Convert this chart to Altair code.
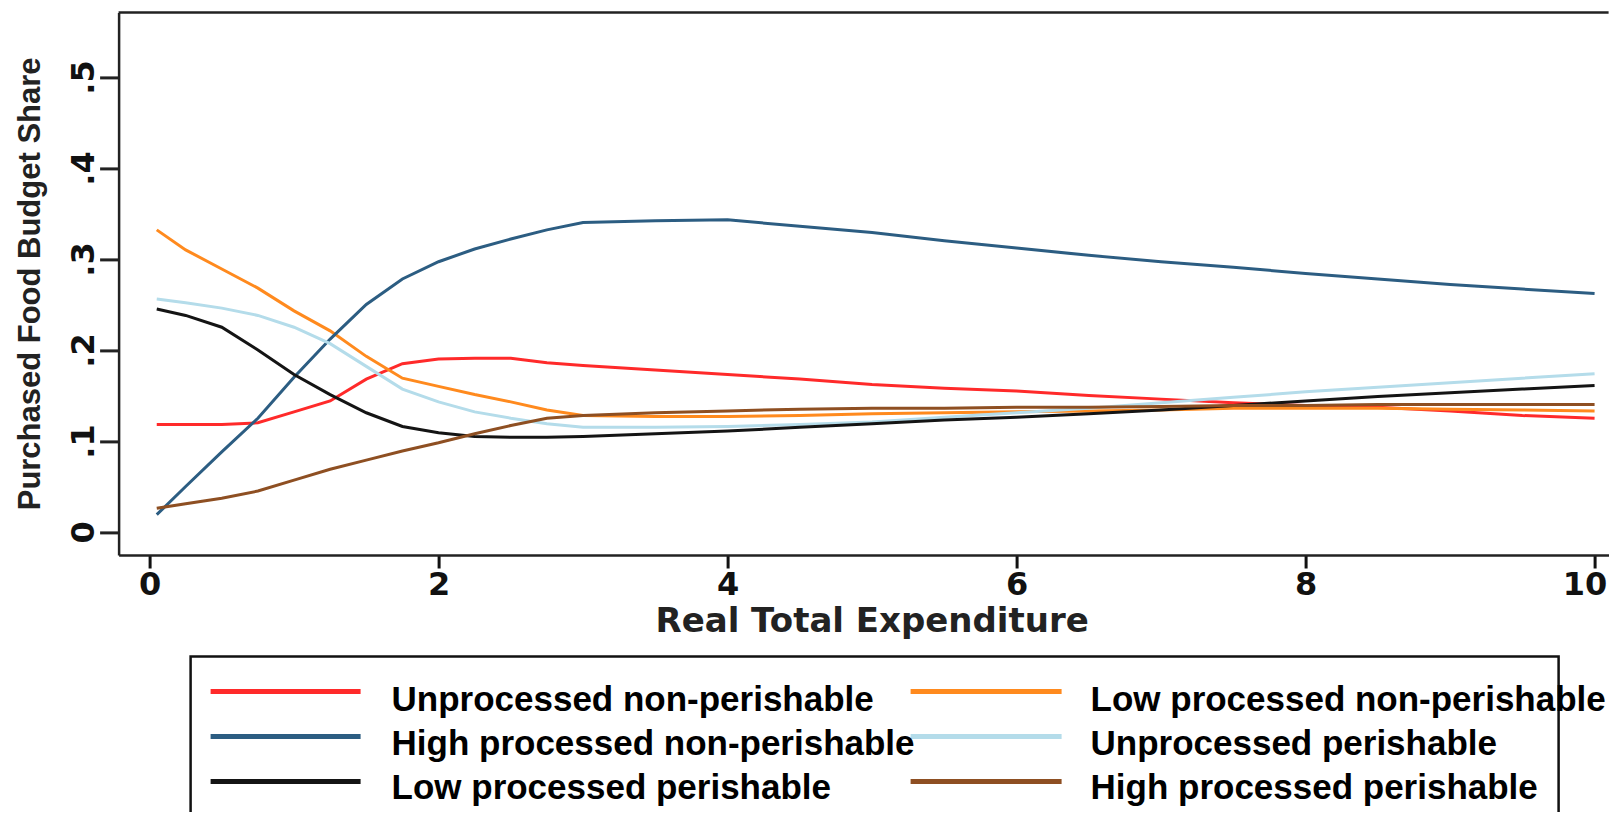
import altair as alt
import pandas as pd

# x grid (Real Total Expenditure)
x_vals = [0.05, 0.25, 0.5, 0.75, 1.0, 1.25, 1.5, 1.75, 2.0, 2.25, 2.5, 2.75, 3.0,
          3.5, 4.0, 4.5, 5.0, 5.5, 6.0, 6.5, 7.0, 7.5, 8.0, 8.5, 9.0, 9.5, 10.0]

unproc_nonper = [0.118, 0.118, 0.118, 0.120, 0.132, 0.144, 0.168, 0.185, 0.190, 0.191, 0.191, 0.186, 0.183,
                 0.178, 0.173, 0.168, 0.162, 0.158, 0.155, 0.150, 0.146, 0.142, 0.139, 0.137, 0.133, 0.128, 0.125]
lowproc_nonper = [0.332, 0.310, 0.289, 0.268, 0.243, 0.221, 0.193, 0.169, 0.160, 0.151, 0.143, 0.134, 0.128,
                  0.127, 0.127, 0.128, 0.130, 0.131, 0.132, 0.133, 0.134, 0.136, 0.136, 0.136, 0.135, 0.134, 0.133]
highproc_nonper = [0.019, 0.050, 0.088, 0.125, 0.170, 0.212, 0.250, 0.278, 0.297, 0.311, 0.322, 0.332, 0.340,
                   0.342, 0.343, 0.336, 0.329, 0.320, 0.312, 0.304, 0.297, 0.291, 0.284, 0.278, 0.272, 0.267, 0.262]
unproc_per = [0.256, 0.252, 0.246, 0.238, 0.225, 0.207, 0.182, 0.157, 0.143, 0.132, 0.125, 0.119, 0.115,
              0.115, 0.116, 0.118, 0.121, 0.126, 0.131, 0.136, 0.142, 0.148, 0.154, 0.159, 0.164, 0.169, 0.174]
lowproc_per = [0.245, 0.238, 0.225, 0.200, 0.173, 0.151, 0.131, 0.116, 0.109, 0.105, 0.104, 0.104, 0.105,
               0.108, 0.111, 0.115, 0.119, 0.123, 0.126, 0.130, 0.134, 0.139, 0.144, 0.149, 0.153, 0.157, 0.161]
highproc_per = [0.026, 0.031, 0.037, 0.045, 0.057, 0.069, 0.079, 0.089, 0.098, 0.108, 0.117, 0.125, 0.128,
                0.131, 0.133, 0.135, 0.136, 0.136, 0.137, 0.137, 0.138, 0.139, 0.139, 0.140, 0.140, 0.140, 0.140]

series_names = ["Unprocessed non-perishable", "Low processed non-perishable",
                "High processed non-perishable", "Unprocessed perishable",
                "Low processed perishable", "High processed perishable"]
series_values = [unproc_nonper, lowproc_nonper, highproc_nonper, unproc_per, lowproc_per, highproc_per]
series_colors = ["#ff2a2a", "#ff8a1e", "#2c5d82", "#b4dcea", "#141414", "#8e4f22"]

y_ticks = [0, 0.1, 0.2, 0.3, 0.4, 0.5]
x_ticks = [0, 2, 4, 6, 8, 10]

rows = []
for name, vals in zip(series_names, series_values):
    for xv, yv in zip(x_vals, vals):
        rows.append({"series": name, "x": xv, "y": yv})
df = pd.DataFrame(rows)

W = 1490
lines = alt.Chart(df).mark_line(strokeWidth=3).encode(
    x=alt.X("x:Q", scale=alt.Scale(domain=[-0.214, 10.097], nice=False, zero=False),
            axis=alt.Axis(values=x_ticks, format="d", title="Real Total Expenditure",
                          labelFont="DejaVu Sans", labelFontWeight="bold", labelFontSize=32,
                          labelColor="#111", labelPadding=2, tickSize=13, tickWidth=3,
                          labelOffset={"condition": {"test": "datum.value == 10", "value": -10}, "value": 0},
                          tickColor="#111", domain=True, domainColor="#222", domainWidth=2.5,
                          grid=False,
                          titleFont="DejaVu Sans", titleFontWeight="bold", titleFontSize=34,
                          titleColor="#222", titleBaseline="top", titleY=50, titleX=753)),
    y=alt.Y("y:Q", scale=alt.Scale(domain=[-0.0253, 0.5710], nice=False, zero=False),
            axis=alt.Axis(values=y_ticks, title="Purchased Food Budget Share",
                          labelExpr="datum.value == 0 ? '0' : replace(format(datum.value, '.1f'), '0.', '.')",
                          labelAngle=270, labelAlign="center", labelBaseline="alphabetic",
                          labelFont="DejaVu Sans", labelFontWeight="bold", labelFontSize=32,
                          labelColor="#111", labelPadding=6, tickSize=19, tickWidth=3,
                          tickColor="#222", domain=True, domainColor="#222", domainWidth=2.5,
                          grid=False,
                          titleFont="Liberation Sans", titleFontSize=31, titleFontWeight="bold",
                          titleColor="#222", titleAngle=270, titleAlign="center",
                          titleBaseline="middle", titleX=-88, titleY=271)),
    color=alt.Color("series:N", scale=alt.Scale(domain=series_names, range=series_colors), legend=None),
    order=alt.Order("x:Q"),
)

one = pd.DataFrame({"k": [0]})
# top border of the plot region (right side runs off the page in the reference)
top_border = alt.Chart(one).mark_rule(color="#222", strokeWidth=2.5).encode(
    x=alt.value(0), x2=alt.value(W), y=alt.value(0)
)

# legend drawn below the plot
leg = pd.DataFrame({"label": series_names, "color": series_colors, "i": list(range(6))})
leg_base = alt.Chart(leg).transform_calculate(
    sx="92 + (datum.i % 2) * 700",
    ex="242 + (datum.i % 2) * 701",
    sy="679 + floor(datum.i / 2) * 45",
    lx="273 + (datum.i % 2) * 699",
    ly="688 + floor(datum.i / 2) * 44",
)
leg_lines = leg_base.mark_rule(strokeWidth=5).encode(
    x=alt.X("sx:Q", scale=None), x2="ex:Q",
    y=alt.Y("sy:Q", scale=None),
    color=alt.Color("color:N", scale=None),
)
leg_text = leg_base.mark_text(align="left", baseline="middle", font="Liberation Sans",
                              fontWeight="bold", fontSize=35, color="#000").encode(
    x=alt.X("lx:Q", scale=None), y=alt.Y("ly:Q", scale=None), text="label:N"
)
box = alt.Chart(one).mark_rect(fill="white", stroke="#111", strokeWidth=2.5).encode(
    x=alt.value(72), x2=alt.value(1440), y=alt.value(644), y2=alt.value(803)
)

chart = alt.layer(lines, top_border, box, leg_lines, leg_text).properties(
    width=W, height=542.6,
    autosize=alt.AutoSizeParams(type="none"),
    padding={"left": 110.6, "top": 4.4, "right": 0, "bottom": 257},
    background="white",
).configure_view(stroke=None)

chart.save("out.html", embed_options={"renderer": "svg", "actions": False})
